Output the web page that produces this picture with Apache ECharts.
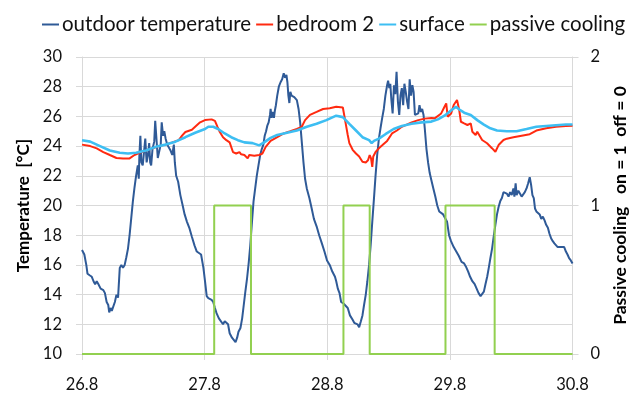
<!DOCTYPE html>
<html><head><meta charset="utf-8">
<script src="https://cdn.jsdelivr.net/npm/echarts@6/dist/echarts.min.js"></script>
<style>html,body{margin:0;padding:0;background:#fff}#chart{width:637px;height:394px}</style>
</head><body><div id="chart"></div>
<script>
// x values: day of August (26.8 = 26 Aug 00:00, fractional part = time of day)
const xTickLabels = ['26.8', '27.8', '28.8', '29.8', '30.8'];

const outdoorDays = [
26.800,26.819,26.835,26.845,26.862,26.880,26.894,26.907,26.920,26.934,26.952,26.974,26.987,27.001,27.014,27.022,27.033,27.043,27.054,27.068,
27.081,27.094,27.108,27.121,27.134,27.148,27.161,27.175,27.188,27.201,27.215,27.228,27.241,27.255,27.263,27.268,27.276,27.284,27.295,27.308,
27.316,27.327,27.338,27.348,27.356,27.364,27.375,27.389,27.397,27.407,27.418,27.429,27.442,27.450,27.461,27.471,27.482,27.495,27.509,27.522,
27.536,27.549,27.557,27.568,27.584,27.602,27.621,27.637,27.656,27.675,27.696,27.718,27.736,27.750,27.771,27.790,27.803,27.817,
27.830,27.857,27.870,27.884,27.897,27.916,27.932,27.950,27.964,27.977,27.991,28.004,28.023,28.039,28.052,28.065,28.076,28.092,28.106,28.119,
28.132,28.146,28.159,28.172,28.186,28.199,28.213,28.226,28.239,28.253,28.266,28.279,28.290,28.301,28.312,28.322,28.333,28.338,28.346,28.354,
28.365,28.373,28.381,28.392,28.405,28.419,28.432,28.445,28.456,28.467,28.475,28.483,28.491,28.499,28.509,28.520,28.531,28.542,28.552,28.566,
28.579,28.592,28.606,28.619,28.633,28.654,28.673,28.691,28.713,28.734,28.756,28.777,28.798,28.820,28.841,28.863,
28.873,28.886,28.900,28.913,28.932,28.948,28.967,28.985,29.007,29.020,29.034,29.047,29.060,29.074,29.087,29.100,29.114,29.127,29.141,29.154,
29.167,29.181,29.194,29.207,29.221,29.234,29.248,29.261,29.274,29.288,29.296,29.306,29.314,29.322,29.333,29.344,29.355,29.365,29.376,29.387,
29.397,29.408,29.419,29.429,29.440,29.451,29.462,29.472,29.483,29.494,29.504,29.515,29.528,29.542,29.552,29.563,29.574,29.585,29.595,29.609,
29.622,29.635,29.649,29.665,29.681,29.697,29.713,29.729,29.745,29.761,29.777,29.793,29.809,29.831,29.852,29.873,29.895,
29.916,29.930,29.949,29.965,29.983,30.002,30.018,30.034,30.050,30.064,30.077,30.090,30.104,30.117,30.130,30.144,30.157,30.171,30.184,30.197,
30.211,30.224,30.237,30.251,30.264,30.278,30.291,30.304,30.318,30.326,30.336,30.344,30.358,30.371,30.385,30.398,30.411,30.425,30.438,30.451,
30.462,30.473,30.484,30.494,30.505,30.518,30.532,30.545,30.558,30.572,30.585,30.599,30.612,30.625,30.639,30.652,30.665,30.679,30.692,30.706,
30.719,30.732,30.746,30.759,30.772,30.786,30.800];
const outdoorTemp = [
17.0,16.7,16.0,15.4,15.3,15.2,14.9,14.7,14.9,14.7,14.4,14.3,14.1,13.5,13.3,12.8,13.1,12.9,13.0,13.5,
14.0,13.8,15.8,16.0,15.8,16.0,16.5,17.1,18.0,19.1,20.3,21.2,22.0,22.7,21.8,23.4,24.7,22.9,22.7,23.8,
24.5,22.9,23.4,24.2,22.9,22.7,23.8,24.3,25.7,25.6,23.2,23.3,24.1,25.6,24.7,25.0,24.5,24.1,24.2,23.7,
23.4,24.1,22.9,22.0,21.6,20.7,20.0,19.4,18.9,18.5,17.9,17.3,16.9,16.8,16.7,15.8,14.9,13.9,
13.76,13.65,13.5,13.1,12.75,12.4,12.3,12.0,12.2,12.2,12.0,11.4,11.1,11.0,10.8,11.1,11.5,11.75,12.4,13.3,
14.2,15.1,16.1,17.3,18.9,20.3,21.2,22.05,22.7,23.4,23.8,24.1,24.7,25.0,25.4,25.6,26.1,26.5,25.9,26.3,
25.9,26.4,26.75,27.4,28.0,28.3,28.5,28.9,28.6,28.8,28.3,27.4,26.9,27.65,27.4,27.5,27.3,27.4,27.1,26.5,
25.6,24.3,22.9,21.8,21.15,20.5,19.8,19.1,18.6,18.0,17.45,16.9,16.3,16.0,15.55,15.2,
14.9,14.4,14.1,13.5,13.4,13.5,13.1,12.6,12.3,12.1,12.2,12.0,11.8,12.2,12.6,13.3,14.0,14.9,16.0,17.35,
18.9,20.5,22.05,23.4,24.5,25.2,25.9,26.5,27.4,28.1,28.4,27.9,28.2,27.2,26.2,28.1,27.5,29.0,27.0,26.1,
27.4,27.9,26.75,28.2,27.65,27.0,26.5,28.5,27.4,28.1,27.65,26.1,26.0,26.2,26.75,26.3,26.5,26.1,25.2,23.8,
22.9,22.2,21.7,21.15,20.6,20.0,19.6,19.5,19.4,19.5,18.9,18.0,17.6,17.2,16.9,16.6,16.2,
16.1,15.9,15.55,15.2,14.9,14.7,14.4,14.1,13.9,13.9,14.2,14.7,15.2,15.8,16.45,17.1,17.9,18.7,19.4,19.9,
20.3,20.5,20.9,21.0,20.8,20.6,20.9,20.7,21.15,20.6,21.5,20.7,21.0,20.9,20.6,20.5,20.9,21.15,21.5,21.9,
21.4,20.7,20.5,19.8,19.6,19.7,19.4,19.1,19.25,19.0,18.7,18.5,18.1,17.8,17.6,17.45,17.35,17.2,17.3,17.2,
17.3,17.2,16.9,16.7,16.45,16.3,16.1];

const bedroomDays = [
26.800,26.867,26.920,26.974,27.027,27.081,27.134,27.188,27.228,27.268,27.322,27.375,27.429,27.482,27.536,27.589,27.616,27.643,27.696,27.736,
27.763,27.803,27.857,27.884,27.905,27.924,27.950,27.977,28.004,28.031,28.057,28.084,28.098,28.124,28.151,28.164,28.205,28.245,28.271,28.298,
28.338,28.392,28.445,28.499,28.552,28.592,28.619,28.659,28.713,28.766,28.820,28.873,28.927,28.940,28.953,28.967,28.980,29.007,29.034,29.060,
29.087,29.114,29.132,29.146,29.157,29.167,29.175,29.194,29.221,29.248,29.288,29.328,29.368,29.408,29.448,29.488,29.542,29.595,29.649,29.676,
29.729,29.756,29.770,29.782,29.796,29.810,29.831,29.858,29.876,29.890,29.916,29.943,29.970,29.983,30.010,30.023,30.063,30.103,30.143,30.171,
30.197,30.237,30.264,30.318,30.385,30.451,30.505,30.585,30.665,30.746,30.800];
const bedroomTemp = [
24.1,24.0,23.85,23.6,23.4,23.2,23.17,23.17,23.4,23.55,23.7,23.85,24.0,24.1,24.25,24.4,24.7,24.95,25.1,25.4,
25.6,25.75,25.8,25.7,25.3,24.95,24.6,24.4,24.25,23.6,23.5,23.6,23.45,23.4,23.17,23.4,23.35,23.4,23.5,23.95,
24.35,24.6,24.85,25.0,25.15,25.3,25.75,26.1,26.3,26.5,26.55,26.65,26.6,26.0,25.4,24.75,24.2,23.75,23.5,23.3,
22.95,22.9,23.05,23.4,23.17,22.6,23.3,23.6,23.85,24.05,24.35,24.85,25.05,25.3,25.45,25.6,25.75,25.85,25.9,25.87,
26.2,26.65,26.88,25.98,25.87,26.2,26.77,27.1,26.43,25.64,25.53,25.42,25.53,24.97,24.75,24.97,24.41,24.19,23.86,23.62,
24.07,24.41,24.5,24.6,24.7,24.8,25.05,25.2,25.3,25.35,25.37];

const surfaceDays = [
26.800,26.867,26.947,27.027,27.108,27.175,27.241,27.322,27.402,27.482,27.562,27.643,27.723,27.803,27.830,27.870,27.910,27.964,28.017,28.071,
28.124,28.191,28.245,28.285,28.338,28.392,28.472,28.552,28.633,28.713,28.793,28.873,28.927,28.980,29.034,29.087,29.141,29.162,29.181,29.221,
29.274,29.341,29.408,29.488,29.569,29.649,29.702,29.756,29.809,29.849,29.880,29.916,29.970,30.023,30.077,30.130,30.184,30.264,30.344,30.425,
30.505,30.585,30.665,30.746,30.800];
const surfaceTemp = [
24.4,24.3,24.0,23.7,23.55,23.5,23.55,23.7,23.95,24.1,24.3,24.6,24.9,25.15,25.3,25.3,25.15,24.85,24.6,24.4,
24.25,24.2,24.05,24.25,24.55,24.75,24.9,25.05,25.3,25.5,25.75,26.05,25.95,25.5,25.05,24.6,24.4,24.2,24.35,24.5,
24.8,25.15,25.35,25.5,25.6,25.65,25.8,26.05,26.4,26.65,26.45,26.25,26.1,25.75,25.45,25.2,25.05,25.0,25.0,25.15,
25.3,25.35,25.4,25.45,25.45];

const coolingDays  = [26.8, 27.878, 28.178, 28.932, 29.146, 29.764, 30.165, 30.8];
const coolingState = [0, 1, 0, 1, 0, 1, 0, 0];

const X0 = 26.8; // first tick (26 August)
const pairs = (xs, ys) => xs.map((x, i) => [x - X0, ys[i]]);

const FONT = 'Lato';
const GRID = '#D9D9D9';
const chart = echarts.init(document.getElementById('chart'), null, {renderer: 'canvas'});
chart.setOption({
  animation: false,
  textStyle: {fontFamily: FONT},
  legend: {
    left: 37, top: 9, icon: 'rect', itemWidth: 17, itemHeight: 2, itemGap: 5,
    textStyle: {fontSize: 20.5, color: '#111', fontFamily: FONT, padding: [0, 0, 0, -2]},
    data: ['outdoor temperature', 'bedroom 2', 'surface', 'passive cooling']
  },
  grid: {left: 82, right: 57, top: 57, bottom: 40},
  xAxis: {
    type: 'value', min: 0, max: xTickLabels.length - 1, interval: 1,
    axisLine: {show: true, lineStyle: {color: GRID}},
    axisTick: {show: true, length: 6, lineStyle: {color: GRID}},
    splitLine: {show: true, lineStyle: {color: GRID}},
    axisLabel: {fontSize: 16.5, color: '#111', margin: 22, fontFamily: FONT,
      formatter: v => xTickLabels[Math.round(v)]}
  },
  yAxis: [{
    type: 'value', min: 10, max: 30, interval: 2,
    name: 'Temperature  [°C]', nameLocation: 'middle', nameRotate: 90, nameGap: 49,
    nameTextStyle: {fontSize: 17, fontWeight: 'bold', color: '#000', fontFamily: FONT},
    axisLine: {show: true, lineStyle: {color: GRID}},
    axisTick: {show: true, length: 6, lineStyle: {color: GRID}},
    splitLine: {show: true, lineStyle: {color: GRID}},
    axisLabel: {fontSize: 16.5, color: '#111', margin: 20, fontFamily: FONT}
  }, {
    type: 'value', min: 0, max: 2, interval: 1, position: 'right',
    name: 'Passive cooling   on = 1  off = 0', nameLocation: 'middle', nameRotate: 90, nameGap: 38,
    nameTextStyle: {fontSize: 17.5, fontWeight: 'bold', color: '#000', fontFamily: FONT},
    axisLine: {show: true, lineStyle: {color: GRID}},
    axisTick: {show: true, length: 6, lineStyle: {color: GRID}},
    splitLine: {show: false},
    axisLabel: {fontSize: 16.5, color: '#111', margin: 18, fontFamily: FONT}
  }],
  series: [{
    name: 'outdoor temperature', type: 'line', yAxisIndex: 0, showSymbol: false,
    data: pairs(outdoorDays, outdoorTemp),
    lineStyle: {color: '#2F5A97', width: 2}, itemStyle: {color: '#2F5A97'}
  }, {
    name: 'bedroom 2', type: 'line', yAxisIndex: 0, showSymbol: false,
    data: pairs(bedroomDays, bedroomTemp),
    lineStyle: {color: '#FF2A10', width: 2}, itemStyle: {color: '#FF2A10'}
  }, {
    name: 'surface', type: 'line', yAxisIndex: 0, showSymbol: false,
    data: pairs(surfaceDays, surfaceTemp),
    lineStyle: {color: '#3DBEF2', width: 2.6}, itemStyle: {color: '#3DBEF2'}
  }, {
    name: 'passive cooling', type: 'line', yAxisIndex: 1, showSymbol: false, step: 'end',
    data: pairs(coolingDays, coolingState),
    lineStyle: {color: '#92D050', width: 2}, itemStyle: {color: '#92D050'}
  }]
});
</script>
</body></html>
